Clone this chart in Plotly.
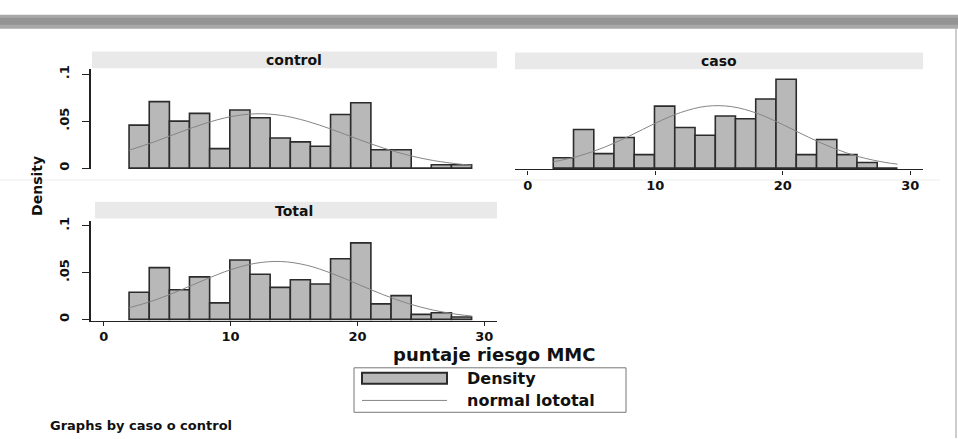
import plotly.graph_objects as go

# ---------------- data ----------------
bin_edges = [2.0, 3.59, 5.18, 6.76, 8.35, 9.94, 11.53, 13.12, 14.71,
             16.29, 17.88, 19.47, 21.06, 22.65, 24.24, 25.82, 27.41, 29.0]

dens_control = [0.0457, 0.0707, 0.0500, 0.0582, 0.0207, 0.0618, 0.0536, 0.0321,
                0.0279, 0.0232, 0.0571, 0.0696, 0.0196, 0.0196, 0.0, 0.0035, 0.0035]
dens_caso = [0.0110, 0.0410, 0.0154, 0.0325, 0.0143, 0.0660, 0.0432, 0.0350,
             0.0554, 0.0525, 0.0736, 0.0946, 0.0143, 0.0304, 0.0143, 0.0060, 0.0]
dens_total = [0.0289, 0.0553, 0.0317, 0.0454, 0.0176, 0.0634, 0.0482, 0.0342,
              0.0423, 0.0377, 0.0648, 0.0817, 0.0165, 0.0254, 0.0053, 0.0070, 0.0025]

curve_x = [2, 4, 6, 8, 10, 12, 14, 16, 18, 20, 22, 24, 26, 28, 29]
norm_control = [0.0190, 0.0280, 0.0381, 0.0476, 0.0547, 0.0578, 0.0561, 0.0500,
                0.0411, 0.0310, 0.0215, 0.0137, 0.0080, 0.0043, 0.0031]
norm_caso = [0.0066, 0.0128, 0.0221, 0.0343, 0.0477, 0.0592, 0.0658, 0.0654,
             0.0582, 0.0463, 0.0330, 0.0211, 0.0120, 0.0061, 0.0042]
norm_total = [0.0123, 0.0204, 0.0309, 0.0425, 0.0530, 0.0600, 0.0618, 0.0578,
              0.0490, 0.0378, 0.0265, 0.0169, 0.0098, 0.0051, 0.0036]

panel_titles = ["control", "caso", "Total"]
x_ticks = [0, 10, 20, 30]
y_ticks = [0, 0.05, 0.1]
y_tick_text = ["0", ".05", ".1"]

# ---------------- styling ----------------
W, H = 958, 439
BAR_FILL = "#b8b8b8"
BAR_LINE = "#2b2b2b"
CURVE = "#858585"
STRIP = "#e9e9e9"
FONT = "DejaVu Sans"


def px(x):
    return x / W


def py(y):
    return 1 - y / H


centers = [(a + b) / 2 for a, b in zip(bin_edges[:-1], bin_edges[1:])]
widths = [b - a for a, b in zip(bin_edges[:-1], bin_edges[1:])]

fig = go.Figure()
series = [(dens_control, norm_control, "x", "y"),
          (dens_caso, norm_caso, "x2", "y2"),
          (dens_total, norm_total, "x3", "y3")]
for dens, norm, xa, ya in series:
    fig.add_trace(go.Bar(x=centers, y=dens, width=widths, xaxis=xa, yaxis=ya,
                         marker=dict(color=BAR_FILL, line=dict(color=BAR_LINE, width=1.6)),
                         showlegend=False, hoverinfo="skip"))
    fig.add_trace(go.Scatter(x=curve_x, y=norm, mode="lines", xaxis=xa, yaxis=ya,
                             line=dict(color=CURVE, width=1, shape="spline"),
                             showlegend=False, hoverinfo="skip"))

left_dom = [px(91), px(497)]
right_dom = [px(515), px(923)]
top_dom = [py(167.4), py(66.2)]
bot_dom = [py(320.4), py(219.6)]
xr = [-1.0, 31.0]
yr = [-0.0015, 0.105]

tickfont = dict(family=FONT, size=13, color="#111", weight="bold")
x_common = dict(range=xr, tickvals=x_ticks, showgrid=False, zeroline=False,
                linecolor="#222", linewidth=1.2, ticks="outside", ticklen=4,
                tickcolor="#222", tickfont=tickfont, fixedrange=True)
y_common = dict(range=yr, tickvals=y_ticks, ticktext=y_tick_text, showgrid=False,
                zeroline=False, linecolor="#222", linewidth=1.6, ticks="outside",
                ticklen=7, tickcolor="#222", tickangle=-90, tickfont=tickfont,
                ticklabelstandoff=8, fixedrange=True)

fig.update_layout(
    width=W, height=H,
    margin=dict(l=0, r=0, t=0, b=0),
    paper_bgcolor="white", plot_bgcolor="rgba(0,0,0,0)",
    barmode="overlay",
    xaxis=dict(x_common, domain=left_dom, anchor="y", showline=False,
               showticklabels=False, ticks=""),
    yaxis=dict(y_common, domain=top_dom, anchor="x", showline=True),
    xaxis2=dict(x_common, domain=right_dom, anchor="y2", showline=True),
    yaxis2=dict(y_common, domain=top_dom, anchor="x2", showline=False,
                showticklabels=False, ticks=""),
    xaxis3=dict(x_common, domain=left_dom, anchor="y3", showline=True),
    yaxis3=dict(y_common, domain=bot_dom, anchor="x3", showline=True),
)

shapes = []
annotations = []


def rect(x0, y0, x1, y1, fill, line=None, lw=0, layer="below"):
    shapes.append(dict(type="rect", xref="paper", yref="paper",
                       x0=px(x0), x1=px(x1), y0=py(y1), y1=py(y0),
                       fillcolor=fill, line=dict(color=line or fill, width=lw),
                       layer=layer))


def text(x, y, s, size, xanchor="center", angle=0, color="#111"):
    annotations.append(dict(xref="paper", yref="paper", x=px(x), y=py(y), text=s,
                            showarrow=False, xanchor=xanchor, yanchor="middle",
                            textangle=angle,
                            font=dict(family=FONT, size=size, color=color, weight="bold")))


# scan band at top and right border line
rect(0, 11, W, 25, "#a8a8a8")
rect(0, 14, W, 21, "#939393")
shapes.append(dict(type="line", xref="paper", yref="paper", x0=px(956), x1=px(956),
                   y0=0, y1=py(25), line=dict(color="#9a9a9a", width=1)))
shapes.append(dict(type="line", xref="paper", yref="paper", x0=0, x1=px(940),
                   y0=py(178), y1=py(178), line=dict(color="#ececec", width=1)))

# panel strips
rect(92, 48, 497, 65, STRIP)
rect(515, 49, 923, 66, STRIP)
rect(95, 200, 497, 217, STRIP)
text(294, 57, panel_titles[0], 14)
text(719, 58, panel_titles[1], 14)
text(294, 209, panel_titles[2], 14)

# axis titles
text(37, 184, "Density", 14, angle=-90)
text(494, 355, "puntaje riesgo MMC", 18)

# legend box
rect(354, 368, 626, 413, "rgba(0,0,0,0)", line="#777", lw=1, layer="above")
rect(362, 373, 447, 384, BAR_FILL, line=BAR_LINE, lw=2, layer="above")
shapes.append(dict(type="line", xref="paper", yref="paper", x0=px(362), x1=px(447),
                   y0=py(401), y1=py(401), line=dict(color=CURVE, width=1)))
text(465, 379, "Density", 16, xanchor="left")
text(465, 401, "normal lototal", 16, xanchor="left")

# note
text(48, 426, "Graphs by caso o control", 13, xanchor="left")

fig.update_layout(shapes=shapes, annotations=annotations)
fig.write_html("out.html", config={"displayModeBar": False},
               post_script="document.body.style.margin='0';document.body.style.overflow='hidden';")
